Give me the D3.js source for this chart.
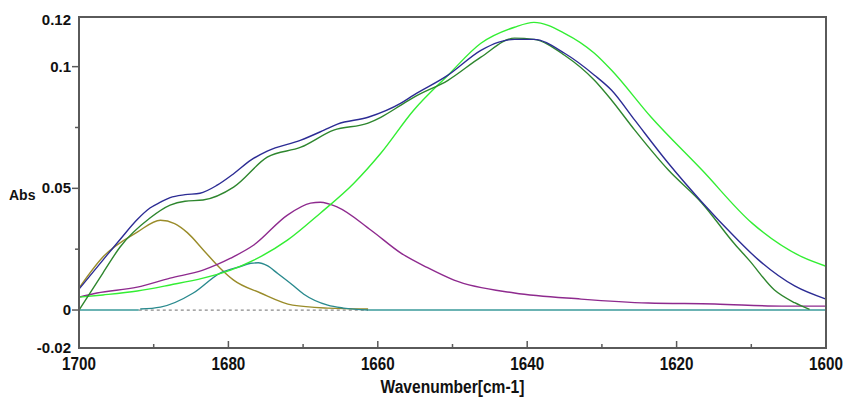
<!DOCTYPE html>
<html>
<head>
<meta charset="utf-8">
<script src="https://cdn.jsdelivr.net/npm/d3@7"></script>
<style>
  body { margin: 0; background: #fff; }
  .tick-label { font-family: "Liberation Sans", Arial, sans-serif; font-weight: bold; }
  .x-label { font-family: "Liberation Sans", Arial, sans-serif; font-weight: bold; }
</style>
</head>
<body>
<div class="container"></div>
<script>
//Width and height
var w = 844;
var h = 398;

// measured spectrum (blue)
var measuredWn = [1700, 1696.8, 1694.5, 1692.2, 1690.5, 1689.1, 1687.8, 1685.8, 1683.8, 1681.5, 1679.3, 1677.0, 1674.8, 1670.3, 1667.2, 1665.4, 1661.3, 1656.9, 1655.2, 1650.6, 1646.2, 1643.9, 1641.7, 1639.1, 1635.0, 1631.0, 1628.7, 1625.6, 1621.1, 1616.6, 1612.2, 1609.0, 1604.2, 1600];
var measuredAbs = [0.0086, 0.0205, 0.029, 0.0372, 0.0419, 0.0443, 0.0462, 0.0474, 0.048, 0.0513, 0.056, 0.0616, 0.0653, 0.0698, 0.0739, 0.0764, 0.0792, 0.085, 0.0883, 0.0965, 0.1067, 0.11, 0.1112, 0.1112, 0.1055, 0.0965, 0.0903, 0.078, 0.0603, 0.0443, 0.030, 0.0205, 0.0099, 0.0045];

// fitted sum (dark green)
var fitWn = [1700, 1696.8, 1694.5, 1690.5, 1687.8, 1685.8, 1683.4, 1679.3, 1674.8, 1670.3, 1665.9, 1661.3, 1659.6, 1656.9, 1655.2, 1650.6, 1646.2, 1641.7, 1639.1, 1635.0, 1631.0, 1628.7, 1625.6, 1621.1, 1616.6, 1612.2, 1610.3, 1606.9, 1604.2, 1602.2];
var fitAbs = [0.0, 0.0152, 0.0259, 0.0378, 0.0431, 0.0447, 0.0452, 0.0505, 0.0628, 0.0669, 0.0739, 0.0768, 0.0792, 0.0842, 0.0874, 0.0944, 0.1039, 0.1117, 0.1112, 0.1047, 0.0944, 0.0862, 0.0739, 0.0575, 0.0439, 0.027, 0.0205, 0.0082, 0.003, 0.0003];

// band 1639 (bright green)
var band1Wn = [1700, 1696.8, 1692.2, 1687.8, 1683.4, 1679.7, 1676.6, 1672.1, 1667.7, 1663.2, 1659.6, 1655.2, 1650.6, 1646.2, 1641.7, 1639.1, 1635.0, 1631.0, 1628.7, 1623.4, 1616.6, 1609.9, 1603.2, 1600];
var band1Abs = [0.0053, 0.0062, 0.0078, 0.0103, 0.0131, 0.0164, 0.0205, 0.0287, 0.0398, 0.0521, 0.0644, 0.0821, 0.0965, 0.1096, 0.1162, 0.1182, 0.1137, 0.1055, 0.0985, 0.0792, 0.0575, 0.0357, 0.0218, 0.018];

// band 1668 (purple)
var band2Wn = [1700, 1697.6, 1692.2, 1687.8, 1683.4, 1679.7, 1676.6, 1672.1, 1669.0, 1667.7, 1665.4, 1660.9, 1656.9, 1653.4, 1649.8, 1641.7, 1632.8, 1623.8, 1614.9, 1605.9, 1600];
var band2Abs = [0.0053, 0.007, 0.0094, 0.0131, 0.0164, 0.0213, 0.0267, 0.039, 0.0439, 0.0443, 0.0423, 0.0328, 0.0234, 0.0175, 0.0123, 0.007, 0.0045, 0.0029, 0.0025, 0.0016, 0.0016];

// band 1689 (olive)
var band3Wn = [1700, 1696.8, 1692.2, 1689.1, 1687.2, 1685.5, 1683.3, 1681.1, 1679.3, 1675.7, 1671.4, 1666.7, 1661.3];
var band3Abs = [0.009, 0.0218, 0.032, 0.0369, 0.0355, 0.0318, 0.0245, 0.0172, 0.0123, 0.007, 0.002, 0.0008, 0.0004];

// band 1676 (teal)
var band4Wn = [1691.8, 1689.1, 1684.7, 1681.1, 1678.5, 1677.0, 1676.0, 1674.8, 1673.4, 1671.5, 1669.9, 1666.7, 1664.6, 1661.3];
var band4Abs = [0.0004, 0.0012, 0.007, 0.0152, 0.0178, 0.0192, 0.0194, 0.0182, 0.015, 0.0105, 0.0065, 0.002, 0.0008, 0.0];

// baseline pieces (teal) and dashed zero marker between them
var baseLeftWn = [1700, 1692];
var baseRightWn = [1661.3, 1600];
var zeroDashWn = [1692, 1661.3];

var xTicks = [1700, 1680, 1660, 1640, 1620, 1600];
var xMinor = [1690, 1670, 1650, 1630, 1610];
var yTicks = [0, 0.05, 0.1];
var yMinor = [0.025, 0.075];
var yEndLabels = ["-0.02", "0.12"];

var x = d3.scaleLinear()
    .domain([1700, 1600])
    .range([79, 826]);

var y = d3.scaleLinear()
    .domain([-0.0156, 0.1204])
    .range([348, 17]);

//Create SVG element
var svg = d3.select(".container")
    .append("svg")
    .attr("width", w)
    .attr("height", h);

svg.append("rect")
    .attr("width", w)
    .attr("height", h)
    .attr("fill", "#fff");

function pairs(wn, ab) {
    return wn.map(function(d, i) { return [d, ab ? ab[i] : 0]; });
}

var line = d3.line()
    .x(function(d) { return x(d[0]); })
    .y(function(d) { return y(d[1]); })
    .curve(d3.curveMonotoneX);

// dashed zero marker
svg.append("line")
    .attr("x1", x(zeroDashWn[0]))
    .attr("x2", x(zeroDashWn[1]))
    .attr("y1", y(0))
    .attr("y2", y(0))
    .attr("stroke", "#8a8a8a")
    .attr("stroke-width", 1.2)
    .attr("stroke-dasharray", "3,3");

var series = [
    { data: pairs(baseLeftWn), color: "#3a9a9a" },
    { data: pairs(baseRightWn), color: "#3a9a9a" },
    { data: pairs(band3Wn, band3Abs), color: "#9a8c2a" },
    { data: pairs(band4Wn, band4Abs), color: "#2a8a8e" },
    { data: pairs(band2Wn, band2Abs), color: "#8e2a8e" },
    { data: pairs(band1Wn, band1Abs), color: "#33ee33" },
    { data: pairs(fitWn, fitAbs), color: "#2e862e" },
    { data: pairs(measuredWn, measuredAbs), color: "#2c2c94" }
];

svg.selectAll(".spectrum")
    .data(series)
    .enter()
    .append("path")
    .attr("class", "spectrum")
    .attr("fill", "none")
    .attr("stroke", function(d) { return d.color; })
    .attr("stroke-width", 1.4)
    .attr("d", function(d) { return line(d.data); });

// frame
svg.append("rect")
    .attr("x", x.range()[0])
    .attr("y", y.range()[1])
    .attr("width", x.range()[1] - x.range()[0])
    .attr("height", y.range()[0] - y.range()[1])
    .attr("fill", "none")
    .attr("stroke", "#5a5a5a")
    .attr("stroke-width", 2);

// x ticks (pointing up into the plot)
var xAxis = svg.append("g").attr("class", "x axis");

xAxis.selectAll(".major")
    .data(xTicks)
    .enter()
    .append("line")
    .attr("x1", function(d) { return x(d); })
    .attr("x2", function(d) { return x(d); })
    .attr("y1", y.range()[0])
    .attr("y2", y.range()[0] - 7)
    .attr("stroke", "#5a5a5a")
    .attr("stroke-width", 1.5);

xAxis.selectAll(".minor")
    .data(xMinor)
    .enter()
    .append("line")
    .attr("x1", function(d) { return x(d); })
    .attr("x2", function(d) { return x(d); })
    .attr("y1", y.range()[0])
    .attr("y2", y.range()[0] - 4)
    .attr("stroke", "#5a5a5a")
    .attr("stroke-width", 1.5);

// narrow, tall tick numbers
xAxis.selectAll("text")
    .data(xTicks)
    .enter()
    .append("text")
    .attr("class", "x-label")
    .attr("transform", function(d) { return "translate(" + x(d) + "," + (y.range()[0] + 22) + ") scale(0.8,1)"; })
    .attr("text-anchor", "middle")
    .attr("font-size", "19px")
    .attr("fill", "#111")
    .text(function(d) { return d; });

svg.append("text")
    .attr("class", "x-label")
    .attr("transform", "translate(" + ((x.range()[0] + x.range()[1]) / 2) + ",393) scale(0.82,1)")
    .attr("text-anchor", "middle")
    .attr("font-size", "19px")
    .attr("font-weight", "normal")
    .attr("fill", "#111")
    .text("Wavenumber[cm-1]");

// y ticks
var yAxis = svg.append("g").attr("class", "y axis");

yAxis.selectAll(".major")
    .data(yTicks)
    .enter()
    .append("line")
    .attr("x1", x.range()[0] - 7)
    .attr("x2", x.range()[0])
    .attr("y1", function(d) { return y(d); })
    .attr("y2", function(d) { return y(d); })
    .attr("stroke", "#5a5a5a")
    .attr("stroke-width", 1.5);

yAxis.selectAll(".minor")
    .data(yMinor)
    .enter()
    .append("line")
    .attr("x1", x.range()[0] - 4)
    .attr("x2", x.range()[0])
    .attr("y1", function(d) { return y(d); })
    .attr("y2", function(d) { return y(d); })
    .attr("stroke", "#5a5a5a")
    .attr("stroke-width", 1.5);

yAxis.selectAll(".lbl")
    .data(yTicks)
    .enter()
    .append("text")
    .attr("class", "tick-label")
    .attr("x", x.range()[0] - 8)
    .attr("y", function(d) { return y(d) + 5; })
    .attr("text-anchor", "end")
    .attr("font-size", "15px")
    .attr("fill", "#111")
    .text(function(d) { return d3.format("~g")(d); });

// labels at the frame corners
yAxis.selectAll(".end")
    .data(yEndLabels)
    .enter()
    .append("text")
    .attr("class", "tick-label")
    .attr("x", x.range()[0] - 8)
    .attr("y", function(d, i) { return y.range()[i] + (i == 0 ? 5 : 8); })
    .attr("text-anchor", "end")
    .attr("font-size", "15px")
    .attr("fill", "#111")
    .text(function(d) { return d; });

svg.append("text")
    .attr("class", "tick-label")
    .attr("x", 9)
    .attr("y", 200)
    .attr("font-size", "14px")
    .attr("fill", "#111")
    .text("Abs");
</script>
</body>
</html>
